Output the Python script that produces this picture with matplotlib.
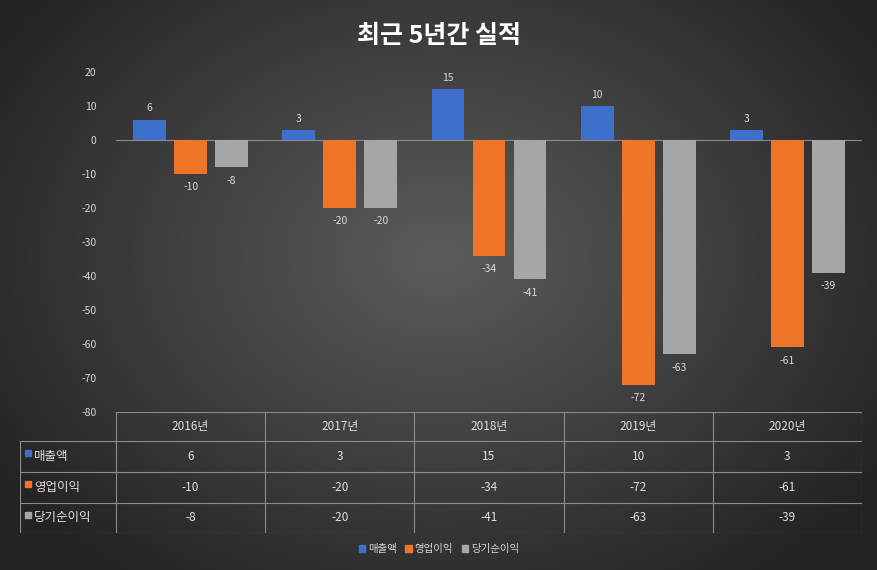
import numpy as np
import matplotlib
matplotlib.use("Agg")
import matplotlib.pyplot as plt
from matplotlib.patches import Rectangle

plt.rcParams['font.family'] = ['Noto Sans CJK KR', 'DejaVu Sans']
plt.rcParams['axes.unicode_minus'] = False

# ---------------- data ----------------
years = ["2016년", "2017년", "2018년", "2019년", "2020년"]
series_names = ["매출액", "영업이익", "당기순이익"]
sales = [6, 3, 15, 10, 3]
op_profit = [-10, -20, -34, -72, -61]
net_profit = [-8, -20, -41, -63, -39]
series = [sales, op_profit, net_profit]
colors = ["#3f6fcc", "#ee7428", "#a6a6a6"]

W, H = 878, 570
fig = plt.figure(figsize=(W / 100, H / 100), dpi=100)

# ---------------- background (radial gradient) ----------------
bg = fig.add_axes([0, 0, 1, 1])
yy, xx = np.mgrid[0:H, 0:W]
r = np.sqrt(((xx - W * 0.5) / (W * 0.6)) ** 2 + ((yy - H * 0.45) / (H * 0.7)) ** 2)
r = np.clip(r, 0, 1)
c0, c1 = np.array([0.36, 0.36, 0.36]), np.array([0.14, 0.14, 0.14])
img = c0[None, None, :] * (1 - r[..., None]) + c1[None, None, :] * r[..., None]
bg.imshow(img, aspect='auto', extent=[0, 1, 0, 1])
bg.axis('off')

def px(x0, y0, x1, y1):
    return [x0 / W, 1 - y1 / H, (x1 - x0) / W, (y1 - y0) / H]

# ---------------- bar chart ----------------
ax = fig.add_axes(px(116, 72, 862, 412))
ax.set_facecolor('none')
n = len(years)
bw = 0.22
x = np.arange(n)
for k, (vals, col) in enumerate(zip(series, colors)):
    xs = x + (k - 1) * 0.275
    ax.bar(xs, vals, width=bw, color=col, zorder=2)
    for xi, v in zip(xs, vals):
        if v >= 0:
            ax.text(xi, v + 1.8, str(v), ha='center', va='bottom', color='#d9d9d9', fontsize=7.5)
        else:
            ax.text(xi, v - 2.5, str(v), ha='center', va='top', color='#d9d9d9', fontsize=7.5)
ax.set_xlim(-0.5, n - 0.5)
ax.set_ylim(-80, 20)
ax.set_yticks(range(-80, 21, 10))
ax.tick_params(axis='y', colors='#d9d9d9', labelsize=7.5, length=0, pad=14)
ax.set_xticks([])
for s in ax.spines.values():
    s.set_visible(False)
ax.axhline(0, color='#8c8c8c', lw=0.8, zorder=1)

# ---------------- data table ----------------
tb = fig.add_axes(px(20, 412, 862, 533))
tb.set_facecolor('none')
tb.set_xlim(20, 862)
tb.set_ylim(533, 412)
tb.axis('off')
line_c = '#8c8c8c'
col_edges = np.linspace(116, 862, n + 1)
row_edges = [412, 441, 472, 503, 533]
for ce in col_edges:
    tb.plot([ce, ce], [412, 533], color=line_c, lw=0.8)
tb.plot([20, 20], [441, 533], color=line_c, lw=0.8)
tb.plot([116, 862], [412, 412], color=line_c, lw=0.8)
for re_ in row_edges[1:]:
    tb.plot([20, 862], [re_, re_], color=line_c, lw=0.8)
centers = (col_edges[:-1] + col_edges[1:]) / 2
for i, yr in enumerate(years):
    tb.text(centers[i], 427, yr, ha='center', va='center', color='#e0e0e0', fontsize=8.5)
for r_i, (name, vals, col) in enumerate(zip(series_names, series, colors)):
    yc = (row_edges[r_i + 1] + row_edges[r_i + 2]) / 2
    tb.add_patch(Rectangle((25, yc - 6), 6, 6, color=col))
    tb.text(34, yc, name, ha='left', va='center', color='#e0e0e0', fontsize=9)
    for i, v in enumerate(vals):
        tb.text(centers[i], yc, str(v), ha='center', va='center', color='#e0e0e0', fontsize=8.5)

# ---------------- legend ----------------
handles = [Rectangle((0, 0), 1, 1, color=c) for c in colors]
fig.legend(handles, series_names, loc='center', bbox_to_anchor=(0.5, 1 - 549 / H),
           ncol=3, frameon=False, fontsize=7.5, labelcolor='#d9d9d9',
           handlelength=0.6, handleheight=0.6, handletextpad=0.3, columnspacing=0.8)

fig.text(0.5, 1 - 36 / H, "최근 5년간 실적", ha='center', va='center',
         color='white', fontsize=18, fontweight='bold')

fig.savefig("out.png", dpi=100)
